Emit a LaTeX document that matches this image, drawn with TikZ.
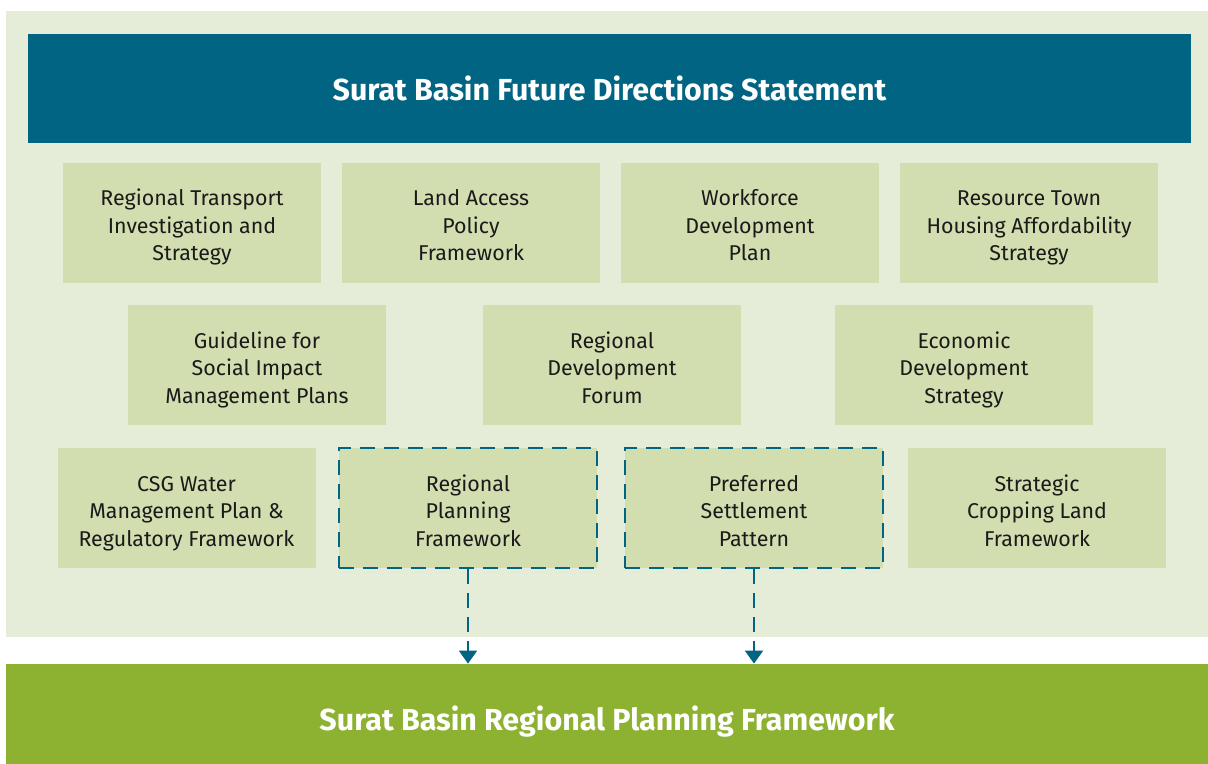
\documentclass[tikz,border=0pt]{standalone}
\usepackage{fontspec}
\setmainfont{Fira Sans}
\usetikzlibrary{arrows.meta, positioning}
\definecolor{basinblue}{HTML}{006482}
\definecolor{paleback}{HTML}{E5EDD8}
\definecolor{boxgreen}{HTML}{D2DEB0}
\definecolor{bandgreen}{HTML}{8DB232}
\definecolor{inkgray}{HTML}{1A1A1A}

\begin{document}
\begin{tikzpicture}[x=0.5pt, y=-0.5pt,
    panel/.style={fill=boxgreen, text=inkgray, align=center, inner sep=0pt,
        minimum width=129pt, minimum height=60pt,
        text height=38pt, text depth=0pt,
        font=\fontsize{10.7}{13.75}\selectfont},
    dashpanel/.style={panel, draw=basinblue, line width=1pt,
        dash pattern=on 7.5pt off 4.5pt},
    banner/.style={text=white, inner sep=0pt, text depth=0pt,
        font=\fontsize{15.2}{18}\selectfont\bfseries},
    flowarrow/.style={draw=basinblue, line width=1pt, dash pattern=on 7.5pt off 4.5pt,
        -{Triangle[width=9pt, length=6.5pt]}}]
    \useasboundingbox (0,0) rectangle (1208,764);

    % ===== Background =====
    \fill[paleback] (6,11) rectangle (1208,637);

    % ===== Top banner =====
    \node[banner, fill=basinblue, text height=12.5pt, minimum width=581.5pt, minimum height=54.5pt]
        (fds) at (609.5,88.5) {Surat Basin Future Directions Statement};

    % ===== Row 1 =====
    \node[panel] (rtis) at (192,223) {Regional Transport\\Investigation and\\Strategy};
    \node[panel] (lapf) at (471,223) {Land Access\\Policy\\Framework};
    \node[panel] (wdp)  at (750,223) {Workforce\\Development\\Plan};
    \node[panel] (rtha) at (1029,223) {Resource Town\\Housing Affordability\\Strategy};

    % ===== Row 2 =====
    \node[panel] (gsim) at (257,365) {Guideline for\\Social Impact\\Management Plans};
    \node[panel] (rdf)  at (612,365) {Regional\\Development\\Forum};
    \node[panel] (eds)  at (964,365) {Economic\\Development\\Strategy};

    % ===== Row 3 =====
    \node[panel] (csg)  at (186.5,508) {CSG Water\\Management Plan \&\\Regulatory Framework};
    \node[dashpanel] (rpf) at (468,508) {Regional\\Planning\\Framework};
    \node[dashpanel] (pso) at (754,508) {Preferred\\Settlement\\Pattern};
    \node[panel] (sclf) at (1037,508) {Strategic\\Cropping Land\\Framework};

    % ===== Bottom band =====
    \node[banner, fill=bandgreen, text height=16.5pt, minimum width=601pt, minimum height=50pt]
        (srpf) at (607,714) {Surat Basin Regional Planning Framework};

    % Arrows
    \draw[flowarrow] (rpf.south) -- (rpf.south |- srpf.north);
    \draw[flowarrow] (pso.south) -- (pso.south |- srpf.north);
\end{tikzpicture}
\end{document}
